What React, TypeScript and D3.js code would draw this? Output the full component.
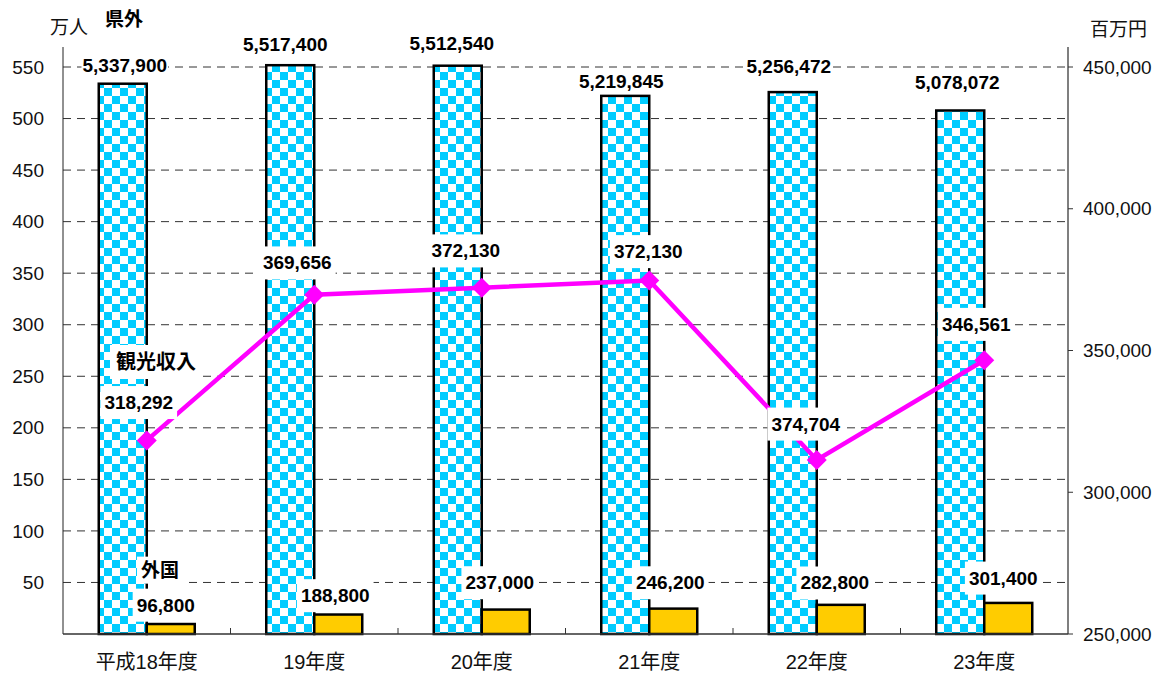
import { useRef, useEffect } from "react";
import * as d3 from "d3";

const CATEGORIES = ["平成18年度", "19年度", "20年度", "21年度", "22年度", "23年度"];
// 県外 visitors (persons)
const DOMESTIC = [5337900, 5517400, 5512540, 5219845, 5256472, 5078072];
// 外国 visitors (persons)
const FOREIGN = [96800, 188800, 237000, 246200, 282800, 301400];
// 観光収入 as plotted (百万円) and as labelled
const INCOME = [318292, 369656, 372130, 374704, 311400, 346561];
const INCOME_LABELS = ["318,292", "369,656", "372,130", "372,130", "374,704", "346,561"];
const LEFT_TICKS = [50, 100, 150, 200, 250, 300, 350, 400, 450, 500, 550];
const RIGHT_TICKS = [250000, 300000, 350000, 400000, 450000];

// hand-placed label nudges (like the Excel original)
const DOM_NUDGE = [[2, -18], [-5, -21], [-6, -22], [-4, -15], [-4, -26], [-3, -28]];
const FOR_NUDGE = [[-5, -19], [-3, -19], [-6, -27], [-3, -26], [-6, -22], [-5, -25]];
const INC_NUDGE = [[-8, -38], [-17, -32], [-16, -37], [-1, -29], [-11, -36], [-8, -36]];

const W = 1163;
const H = 675;
const FONT = '"Liberation Sans", Arial, "Noto Sans CJK JP", sans-serif';
const fmt = d3.format(",");

export default function App() {
  const svgRef = useRef<SVGSVGElement>(null);

  useEffect(() => {
    if (!svgRef.current) return;
    const svg = d3.select(svgRef.current);
    svg.selectAll("*").remove();

    const left = 63;
    const right = 1068;
    const bottom = 634;
    const top = 67;
    const barW = 48;
    const sq = 8; // checker square

    const x = d3.scaleBand<string>().domain(CATEGORIES).range([left, right]);
    const yL = d3.scaleLinear().domain([0, 550]).range([bottom, top]);
    const yR = d3.scaleLinear().domain([250000, 450000]).range([bottom, top]);
    const cx = (i: number) => (x(CATEGORIES[i]) ?? 0) + x.bandwidth() / 2;

    const defs = svg.append("defs");
    const pat = defs
      .append("pattern")
      .attr("id", "checker")
      .attr("width", sq * 2)
      .attr("height", sq * 2)
      .attr("patternUnits", "userSpaceOnUse");
    pat.append("rect").attr("width", sq * 2).attr("height", sq * 2).attr("fill", "#fff");
    pat.append("rect").attr("width", sq).attr("height", sq).attr("fill", "#00ccff");
    pat.append("rect").attr("x", sq).attr("y", sq).attr("width", sq).attr("height", sq).attr("fill", "#00ccff");

    // gridlines
    svg
      .append("g")
      .selectAll("line")
      .data(LEFT_TICKS)
      .join("line")
      .attr("x1", left)
      .attr("x2", right)
      .attr("y1", (d) => yL(d))
      .attr("y2", (d) => yL(d))
      .attr("stroke", "#333")
      .attr("stroke-width", 1)
      .attr("stroke-dasharray", "8,6");

    // 県外 bars
    svg
      .append("g")
      .selectAll("rect")
      .data(DOMESTIC)
      .join("rect")
      .attr("x", (_, i) => cx(i) - barW)
      .attr("y", (d) => yL(d / 10000))
      .attr("width", barW)
      .attr("height", (d) => bottom - yL(d / 10000))
      .attr("fill", "url(#checker)")
      .attr("stroke", "#000")
      .attr("stroke-width", 2.5);

    // 外国 bars
    svg
      .append("g")
      .selectAll("rect")
      .data(FOREIGN)
      .join("rect")
      .attr("x", (_, i) => cx(i))
      .attr("y", (d) => yL(d / 10000))
      .attr("width", barW)
      .attr("height", (d) => bottom - yL(d / 10000))
      .attr("fill", "#ffcc00")
      .attr("stroke", "#000")
      .attr("stroke-width", 2.5);

    // axes
    svg.append("line").attr("x1", left).attr("x2", left).attr("y1", 47).attr("y2", bottom).attr("stroke", "#222");
    svg.append("line").attr("x1", right).attr("x2", right).attr("y1", 47).attr("y2", bottom).attr("stroke", "#555").attr("stroke-width", 1.5);
    svg.append("line").attr("x1", left).attr("x2", right).attr("y1", bottom).attr("y2", bottom).attr("stroke", "#333").attr("stroke-width", 1.5);

    // category boundary ticks
    svg
      .append("g")
      .selectAll("line")
      .data(CATEGORIES.slice(1))
      .join("line")
      .attr("x1", (d) => x(d) ?? 0)
      .attr("x2", (d) => x(d) ?? 0)
      .attr("y1", bottom)
      .attr("y2", bottom - 6)
      .attr("stroke", "#333");

    // right ticks
    svg
      .append("g")
      .selectAll("line")
      .data(RIGHT_TICKS)
      .join("line")
      .attr("x1", right)
      .attr("x2", right + 5)
      .attr("y1", (d) => yR(d))
      .attr("y2", (d) => yR(d))
      .attr("stroke", "#333");

    const txt = svg.append("g").attr("font-family", FONT).attr("fill", "#111");

    txt
      .selectAll("text.lt")
      .data(LEFT_TICKS)
      .join("text")
      .attr("class", "lt")
      .attr("x", 44)
      .attr("y", (d) => yL(d))
      .attr("dy", "0.35em")
      .attr("text-anchor", "end")
      .attr("font-size", 19)
      .text((d) => d);

    txt
      .selectAll("text.rt")
      .data(RIGHT_TICKS)
      .join("text")
      .attr("class", "rt")
      .attr("x", 1083)
      .attr("y", (d) => yR(d))
      .attr("dy", "0.35em")
      .attr("font-size", 19)
      .text((d) => fmt(d));

    txt
      .selectAll("text.cat")
      .data(CATEGORIES)
      .join("text")
      .attr("class", "cat")
      .attr("x", (_, i) => cx(i))
      .attr("y", 662)
      .attr("dy", "0.35em")
      .attr("text-anchor", "middle")
      .attr("font-size", 20)
      .text((d) => d);

    txt.append("text").attr("x", 50).attr("y", 27).attr("dy", "0.35em").attr("font-size", 19).text("万人");
    txt.append("text").attr("x", 1090).attr("y", 29).attr("dy", "0.35em").attr("font-size", 19).text("百万円");

    // income line
    const line = d3
      .line<number>()
      .x((_, i) => cx(i))
      .y((d) => yR(d));
    svg.append("path").datum(INCOME).attr("d", line).attr("fill", "none").attr("stroke", "#ff00ff").attr("stroke-width", 4.5);
    svg
      .append("g")
      .selectAll("path")
      .data(INCOME)
      .join("path")
      .attr("d", d3.symbol(d3.symbolSquare, 200)())
      .attr("transform", (d, i) => `translate(${cx(i)},${yR(d)}) rotate(45)`)
      .attr("fill", "#ff00ff");

    // boxed labels
    const labels = svg.append("g").attr("font-family", FONT).attr("font-weight", "bold");
    const boxed = (lx: number, ly: number, s: string, size: number, padX: number, padY: number) => {
      const g = labels.append("g");
      const rect = g.append("rect").attr("fill", "#fff");
      const t = g
        .append("text")
        .attr("x", lx)
        .attr("y", ly)
        .attr("dy", "0.35em")
        .attr("text-anchor", "middle")
        .attr("font-size", size)
        .attr("fill", "#000")
        .text(s);
      const b = (t.node() as SVGTextElement).getBBox();
      rect
        .attr("x", b.x - padX)
        .attr("y", b.y - padY)
        .attr("width", b.width + padX * 2)
        .attr("height", b.height + padY * 2);
    };

    DOMESTIC.forEach((d, i) => {
      boxed(cx(i) - barW / 2 + DOM_NUDGE[i][0], yL(d / 10000) + DOM_NUDGE[i][1], fmt(d), 19, 1, 0);
    });
    FOREIGN.forEach((d, i) => {
      boxed(cx(i) + barW / 2 + FOR_NUDGE[i][0], yL(d / 10000) + FOR_NUDGE[i][1], fmt(d), 19, 4, 6);
    });
    INCOME.forEach((d, i) => {
      boxed(cx(i) + INC_NUDGE[i][0], yR(d) + INC_NUDGE[i][1], INCOME_LABELS[i], 19, 4, 6);
    });

    boxed(156, 362, "観光収入", 20, 6, 6);
    boxed(160, 570, "外国", 19, 4, 3);
    boxed(124, 19, "県外", 19, 0, 0);
  }, []);

  return (
    <div style={{ position: "absolute", left: 0, top: 0, width: W, height: H, background: "#fff" }}>
      <svg ref={svgRef} width={W} height={H} />
    </div>
  );
}
